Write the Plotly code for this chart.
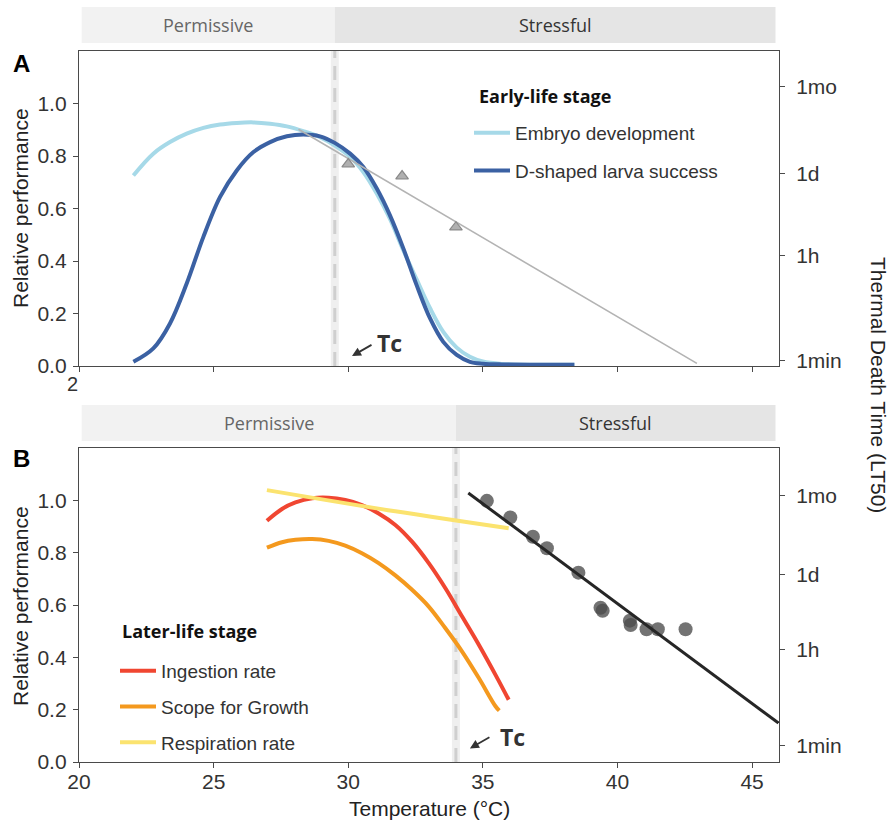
import plotly.graph_objects as go

W, H = 894, 823

# ---------------- Panel A : early-life stage ----------------
embryo_temp = [22.02, 22.76, 23.38, 24.0, 24.62, 25.24, 25.86, 26.48, 27.1, 27.72, 28.33, 28.95, 29.5,
               30.07, 30.56, 31.06, 31.55, 32.05, 32.54, 33.04, 33.53, 34.03, 34.52, 35.0, 35.7, 37.0, 38.4]
embryo_perf = [0.726, 0.809, 0.853, 0.885, 0.907, 0.920, 0.926, 0.928, 0.923, 0.913, 0.895, 0.872, 0.84,
               0.797, 0.739, 0.657, 0.56, 0.44, 0.33, 0.22, 0.13, 0.07, 0.035, 0.017, 0.008, 0.005, 0.005]

larva_temp = [22.02, 22.76, 23.38, 24.0, 24.62, 25.24, 25.86, 26.48, 27.1, 27.72, 28.33, 28.95, 29.5,
              30.07, 30.56, 31.06, 31.55, 32.05, 32.54, 33.04, 33.53, 34.03, 34.52, 35.0, 35.7, 37.0, 38.4]
larva_perf = [0.016, 0.067, 0.162, 0.314, 0.492, 0.644, 0.745, 0.815, 0.853, 0.875, 0.882, 0.875, 0.85,
              0.809, 0.758, 0.676, 0.574, 0.447, 0.308, 0.181, 0.092, 0.042, 0.016, 0.009, 0.006, 0.005, 0.005]

early_lt50_temp = [30.0, 32.0, 34.0]
early_lt50_min = [2110, 1320, 180]
early_fit_temp = [28.15, 42.95]
early_fit_min = [8200, 0.885]
tc_early = 29.5

# ---------------- Panel B : later-life stage ----------------
later_temp = [26.98, 27.54, 28.04, 28.66, 29.27, 29.89, 30.51, 31.13, 31.75, 32.37, 32.99, 33.61,
              34.23, 34.85, 35.47]
ingestion_perf = [0.922, 0.967, 0.992, 1.008, 1.010, 1.001, 0.982, 0.950, 0.906, 0.842, 0.760, 0.664,
                  0.556, 0.448, 0.333]
ingestion_end = (35.96, 0.238)
sfg_perf = [0.819, 0.840, 0.849, 0.852, 0.845, 0.827, 0.798, 0.760, 0.713, 0.658, 0.594, 0.511,
            0.422, 0.321, 0.213]
sfg_end = (35.61, 0.196)

resp_temp = [26.98, 31.75, 35.96]
resp_perf = [1.039, 0.958, 0.893]

later_lt50_temp = [35.15, 36.02, 36.86, 37.38, 38.55, 39.37, 39.45, 40.46, 40.49, 41.08, 41.5, 42.53]
later_lt50_min = [34000, 16800, 7360, 4490, 1590, 356, 313, 205, 170, 142, 142, 142]
later_fit_temp = [34.46, 45.98]
later_fit_min = [47500, 2.6]
tc_later = 34.0

# axis ticks
perf_ticks = [0.0, 0.2, 0.4, 0.6, 0.8, 1.0]
temp_ticks = [20, 25, 30, 35, 40, 45]
ltd_tickvals = [1, 60, 1440, 43200]
ltd_ticktext = ["1min", "1h", "1d", "1mo"]

# colours
C_EMB = "#a6d9e8"
C_LARVA = "#3b61a3"
C_ING = "#f04631"
C_SFG = "#f4991e"
C_RESP = "#fbe36f"
C_AXIS = "#4a4a4a"
C_TXT = "#333333"

def py(p):
    return 1 - p / H

XDOM = [79 / W, 779 / W]
YDOM_A = [py(366), py(51)]
YDOM_B = [py(762), py(448)]

SPL = dict(shape="spline", smoothing=1.0)

fig = go.Figure()

# Panel A curves
fig.add_trace(go.Scatter(x=embryo_temp, y=embryo_perf, mode="lines", name="Embryo development",
                         line=dict(color=C_EMB, width=4, **SPL),
                         xaxis="x", yaxis="y", legend="legend", legendgroup="a1"))
fig.add_trace(go.Scatter(x=larva_temp, y=larva_perf, mode="lines", name="D-shaped larva success",
                         line=dict(color=C_LARVA, width=4, **SPL),
                         xaxis="x", yaxis="y", legend="legend", legendgroup="a2"))
fig.add_trace(go.Scatter(x=early_fit_temp, y=early_fit_min, mode="lines", showlegend=False,
                         line=dict(color="#b3b3b3", width=1.6), xaxis="x", yaxis="y3"))
fig.add_trace(go.Scatter(x=early_lt50_temp, y=early_lt50_min, mode="markers", showlegend=False,
                         marker=dict(symbol="triangle-up", size=11, color="#b0b0b0",
                                     line=dict(color="#8a8a8a", width=1.2)),
                         xaxis="x", yaxis="y3"))

# Panel B curves
fig.add_trace(go.Scatter(x=later_temp + [ingestion_end[0]], y=ingestion_perf + [ingestion_end[1]],
                         mode="lines", name="Ingestion rate",
                         line=dict(color=C_ING, width=4, **SPL),
                         xaxis="x2", yaxis="y2", legend="legend2", legendgroup="b1"))
fig.add_trace(go.Scatter(x=later_temp + [sfg_end[0]], y=sfg_perf + [sfg_end[1]],
                         mode="lines", name="Scope for Growth",
                         line=dict(color=C_SFG, width=4, **SPL),
                         xaxis="x2", yaxis="y2", legend="legend2", legendgroup="b2"))
fig.add_trace(go.Scatter(x=resp_temp, y=resp_perf, mode="lines", name="Respiration rate",
                         line=dict(color=C_RESP, width=4, **SPL),
                         xaxis="x2", yaxis="y2", legend="legend2", legendgroup="b3"))
fig.add_trace(go.Scatter(x=later_lt50_temp, y=later_lt50_min, mode="markers", showlegend=False,
                         marker=dict(size=14, color="rgba(75,75,75,0.78)", line=dict(width=0)),
                         xaxis="x2", yaxis="y4"))
fig.add_trace(go.Scatter(x=later_fit_temp, y=later_fit_min, mode="lines", showlegend=False,
                         line=dict(color="#262626", width=3), xaxis="x2", yaxis="y4"))

shapes = []
annotations = []

def note(text, x, y, size, color, family="Liberation Sans", xref="paper", yref="paper", angle=0,
         xanchor="center"):
    annotations.append(dict(text=text, xref=xref, yref=yref, x=x, y=y, xanchor=xanchor, yanchor="middle",
                            showarrow=False, textangle=angle,
                            font=dict(family=family, size=size, color=color)))

X_LO, X_HI = 20.1, 45.87
for xr, yr, tc, strip_top, strip_bot in [("x", "y", tc_early, 7, 43), ("x2", "y2", tc_later, 405, 441)]:
    shapes.append(dict(type="rect", xref=xr, yref="paper", x0=X_LO, x1=tc, y0=py(strip_bot), y1=py(strip_top),
                       fillcolor="#f2f2f2", line=dict(width=0), layer="below"))
    shapes.append(dict(type="rect", xref=xr, yref="paper", x0=tc, x1=X_HI, y0=py(strip_bot), y1=py(strip_top),
                       fillcolor="#e5e5e5", line=dict(width=0), layer="below"))
    ymid = py((strip_top + strip_bot) / 2)
    note("Permissive", (X_LO + tc) / 2, ymid, 18, "#666666", family="Open Sans", xref=xr)
    note("Stressful", (tc + X_HI) / 2, ymid, 18, "#333333", family="Open Sans", xref=xr)
    shapes.append(dict(type="line", xref=xr, yref=yr + " domain", x0=tc, x1=tc, y0=0, y1=1,
                       line=dict(color="#efefef", width=8), layer="below"))
    shapes.append(dict(type="line", xref=xr, yref=yr + " domain", x0=tc, x1=tc, y0=0, y1=1,
                       line=dict(color="#cfcfcf", width=3, dash="14px,8px"), layer="below"))

# Tc labels with arrows
for xr, yr, hx, hy, tx, ty in [("x", "y", 30.14, 0.038, 31.52, 0.087), ("x2", "y2", 34.52, 0.052, 36.1, 0.095)]:
    annotations.append(dict(text="", xref=xr, yref=yr, x=hx, y=hy, ax=21, ay=-12, showarrow=True,
                            arrowhead=2, arrowsize=1, arrowwidth=1.8, arrowcolor="#333333"))
    note("<b>Tc</b>", tx, ty, 23, "#333333", family="Open Sans", xref=xr, yref=yr)

# legend titles
note("<b>Early-life stage</b>", 477 / W, py(96), 18, "#111111", family="Open Sans", xanchor="left")
note("<b>Later-life stage</b>", 120 / W, py(631), 18, "#111111", family="Open Sans", xanchor="left")

note("<b>A</b>", 21.5 / W, py(64), 24, "#000000")
note("<b>B</b>", 21.5 / W, py(458), 24, "#000000")
note("2", 72.5 / W, py(384), 20, C_TXT)
for yc in (208, 606):
    note("Relative performance", 20 / W, py(yc), 21, "#222222", angle=-90)
note("Thermal Death Time (LT50)", 879 / W, py(385), 21, "#222222", angle=90)
note("Temperature (°C)", 429.5 / W, py(808), 21, "#222222")

tickfont = dict(family="Liberation Sans", size=21, color=C_TXT)

def xaxis(anchor, show_labels):
    return dict(domain=XDOM, anchor=anchor, range=[20, 46], tickvals=temp_ticks, showticklabels=show_labels,
                ticks="outside", ticklen=5, tickcolor=C_AXIS, tickwidth=1.3, showline=True, linecolor=C_AXIS,
                linewidth=1.3, mirror=True, showgrid=False, zeroline=False, tickfont=tickfont,
                ticklabelstandoff=-4, automargin=False)

def yaxis_left(anchor, dom):
    return dict(domain=dom, anchor=anchor, range=[0, 1.2], tickvals=perf_ticks, tickformat=".1f",
                ticks="outside", ticklen=5, tickcolor=C_AXIS, tickwidth=1.3, showline=True, linecolor=C_AXIS,
                linewidth=1.3, mirror=True, showgrid=False, zeroline=False, tickfont=tickfont,
                ticklabelstandoff=2, automargin=False)

def yaxis_right(anchor, over, rng):
    return dict(overlaying=over, anchor=anchor, side="right", type="log", range=rng,
                tickvals=ltd_tickvals, ticktext=ltd_ticktext, ticks="outside", ticklen=5,
                tickcolor=C_AXIS, tickwidth=1.3, showline=False, showgrid=False, zeroline=False,
                tickfont=tickfont, ticklabelstandoff=7, automargin=False)

legend_font = dict(family="Liberation Sans", size=19, color=C_TXT)

fig.update_layout(
    width=W, height=H, autosize=False,
    margin=dict(l=0, r=0, t=0, b=0, autoexpand=False),
    paper_bgcolor="white", plot_bgcolor="white",
    xaxis=xaxis("y", False),
    xaxis2=xaxis("y2", True),
    yaxis=yaxis_left("x", YDOM_A),
    yaxis2=yaxis_left("x2", YDOM_B),
    yaxis3=yaxis_right("x", "y", [-0.098, 5.241]),
    yaxis4=yaxis_right("x2", "y2", [-0.308, 5.511]),
    legend=dict(x=469 / W, y=py(114), xanchor="left", yanchor="top", font=legend_font,
                bgcolor="rgba(0,0,0,0)", tracegroupgap=10, itemwidth=36),
    legend2=dict(x=115 / W, y=py(652), xanchor="left", yanchor="top", font=legend_font,
                 bgcolor="rgba(0,0,0,0)", tracegroupgap=8, itemwidth=36),
    shapes=shapes,
    annotations=annotations,
    showlegend=True,
)

fig.write_html("out.html", config={"displayModeBar": False},
               post_script="document.body.style.margin='0px';")
